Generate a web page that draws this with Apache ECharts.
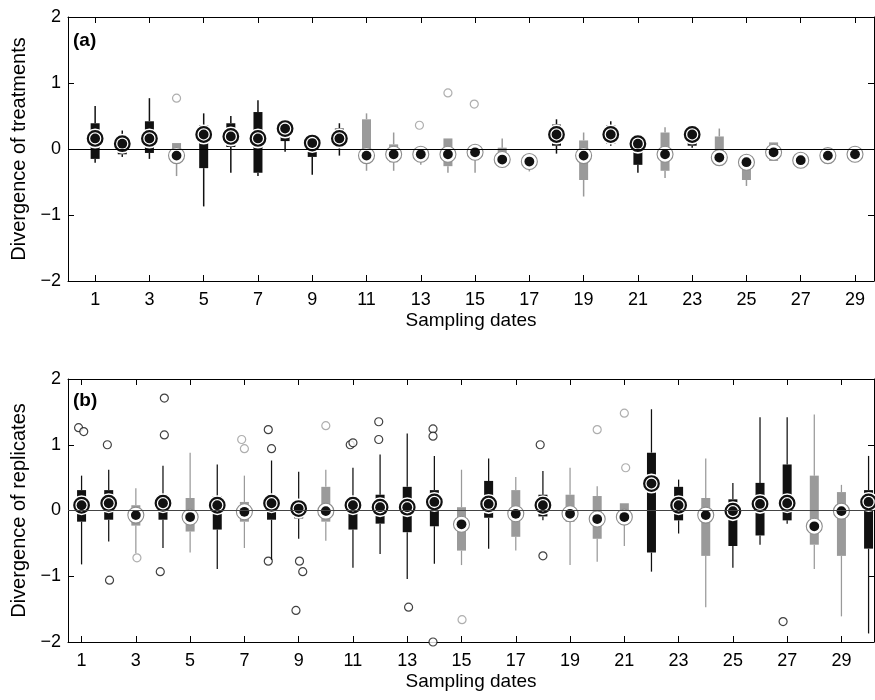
<!DOCTYPE html>
<html><head><meta charset="utf-8">
<script src="https://cdn.jsdelivr.net/npm/echarts@6/dist/echarts.min.js"></script>
<style>html,body{margin:0;padding:0;background:#fff}#c{width:875px;height:700px}</style>
</head><body><div id="c"></div>
<script>
// ---------- Panel (a): divergence of treatments ----------
const datesA = [1,2,3,4,5,6,7,8,9,10,11,12,13,14,15,16,17,18,19,20,21,22,23,24,25,26,27,28,29];
const aLow  = [-0.21,-0.12,-0.15,-0.41,-0.87,-0.36,-0.41,-0.04,-0.39,-0.10,-0.33,-0.33,-0.24,-0.36,-0.36,-0.26,-0.34,-0.07,-0.72,0.05,-0.36,-0.44,0.02,-0.20,-0.56,-0.18,-0.25,-0.15,-0.13];
const aQ1   = [-0.15,-0.08,-0.06,-0.18,-0.29,0.03,-0.36,0.12,-0.12,0.05,-0.20,-0.20,-0.15,-0.26,-0.15,-0.20,-0.25,0.05,-0.47,0.08,-0.24,-0.33,0.05,-0.15,-0.47,-0.18,-0.22,-0.13,-0.11];
const aMed  = [0.16,0.08,0.16,-0.10,0.22,0.19,0.16,0.31,0.09,0.16,-0.10,-0.08,-0.08,-0.08,-0.05,-0.16,-0.19,0.22,-0.10,0.22,0.08,-0.08,0.22,-0.13,-0.20,-0.05,-0.17,-0.10,-0.08];
const aQ3   = [0.39,0.12,0.42,0.09,0.36,0.39,0.56,0.38,0.12,0.31,0.45,0.07,0.02,0.16,0.03,0.02,-0.12,0.37,0.13,0.36,0.10,0.25,0.30,0.19,-0.10,0.10,-0.12,-0.06,-0.05];
const aHigh = [0.65,0.28,0.77,0.09,0.54,0.50,0.74,0.45,0.12,0.39,0.54,0.25,0.02,0.16,0.03,0.16,-0.10,0.45,0.25,0.42,0.15,0.33,0.30,0.31,-0.10,0.10,-0.10,-0.05,-0.03];
const aSig  = [1,1,1,0,1,1,1,1,1,1,0,0,0,0,0,0,0,1,0,1,1,0,1,0,0,0,0,0,0];
const aOutX   = [4.0, 12.95, 14.0, 14.97];
const aOutY   = [0.77, 0.36, 0.85, 0.68];
const aOutSig = [0, 0, 0, 0];

// ---------- Panel (b): divergence of replicates ----------
const datesB = [1,2,3,4,5,6,7,8,9,10,11,12,13,14,15,16,17,18,19,20,21,22,23,24,25,26,27,28,29,30];
const bLow  = [-0.82,-0.47,-0.65,-0.57,-0.64,-0.89,-0.57,-0.75,-0.43,-0.46,-0.87,-0.66,-1.04,-0.81,-0.83,-0.58,-0.61,-0.15,-0.83,-0.78,-0.54,-0.93,-0.35,-1.47,-0.87,-0.52,-0.20,-0.89,-1.61,-1.87];
const bQ1   = [-0.17,-0.14,-0.23,-0.14,-0.32,-0.29,-0.17,-0.14,-0.12,-0.17,-0.29,-0.20,-0.33,-0.24,-0.61,-0.11,-0.40,-0.09,-0.17,-0.43,-0.20,-0.64,-0.15,-0.69,-0.54,-0.38,-0.15,-0.52,-0.69,-0.58];
const bMed  = [0.08,0.11,-0.07,0.11,-0.10,0.08,-0.02,0.11,0.03,-0.01,0.08,0.05,0.05,0.13,-0.21,0.10,-0.05,0.08,-0.05,-0.13,-0.10,0.41,0.08,-0.07,-0.01,0.10,0.11,-0.24,-0.01,0.13];
const bQ3   = [0.31,0.31,0.08,0.24,0.19,0.22,0.13,0.24,0.16,0.36,0.18,0.24,0.36,0.31,0.05,0.45,0.31,0.24,0.24,0.22,0.11,0.88,0.36,0.19,0.17,0.42,0.70,0.53,0.28,0.31];
const bHigh = [0.53,0.62,0.34,0.68,0.88,0.70,0.53,0.76,0.59,0.62,0.65,0.85,1.17,0.83,0.62,0.79,0.51,0.60,0.65,0.37,0.11,1.54,0.47,0.79,0.42,1.42,1.42,1.46,0.39,0.83];
const bSig  = [1,1,0,1,0,1,0,1,1,0,1,1,1,1,0,1,0,1,0,0,0,1,1,0,1,1,1,0,0,1];
const bOutX   = [0.89,1.08,1.95,2.03,3.04,4.05,4.05,3.9,6.9,7.0,7.88,8.0,7.88,9.03,9.15,8.9,10.0,10.9,11.0,11.95,11.95,13.05,13.95,13.95,13.95,15.02,17.9,18.0,20.0,21.0,21.05,26.85];
const bOutY   = [1.26,1.20,1.00,-1.06,-0.72,1.71,1.15,-0.93,1.08,0.94,1.23,0.94,-0.77,-0.77,-0.93,-1.52,1.29,1.00,1.03,1.35,1.08,-1.47,1.24,1.13,-2.0,-1.66,1.00,-0.69,1.23,1.48,0.65,-1.69];
const bOutSig = [1,1,1,1,0,1,1,1,0,0,1,1,1,1,1,1,0,1,1,1,1,1,1,1,1,0,1,1,0,0,0,1];

// tick labels (odd sampling dates)
const xTickValues = [1,3,5,7,9,11,13,15,17,19,21,23,25,27,29];

const BLACK = '#111111', GRAY = '#9a9a9a', RING_GRAY = '#8c8c8c';
const FONT = '"Liberation Sans", Arial, Helvetica, sans-serif';

function boxData(d, lo, q1, md, q3, hi, sg) {
  return d.map((x, i) => [x, lo[i], q1[i], md[i], q3[i], hi[i], sg[i]]);
}
function outData(xs, ys, sg) {
  return xs.map((x, i) => ({
    value: [x, ys[i]],
    itemStyle: { color: '#fff', borderColor: sg[i] ? BLACK : GRAY, borderWidth: 1.2 }
  }));
}

function renderBox(params, api) {
  const x = api.value(0);
  const pLow = api.coord([x, api.value(1)]);
  const pQ1 = api.coord([x, api.value(2)]);
  const pMed = api.coord([x, api.value(3)]);
  const pQ3 = api.coord([x, api.value(4)]);
  const pHigh = api.coord([x, api.value(5)]);
  const sig = api.value(6);
  const col = sig ? BLACK : GRAY;
  const bw = 9;
  const lw = params.seriesIndex === 1 ? 1.5 : 1.25;
  const children = [
    { type: 'line', shape: { x1: pLow[0], y1: pLow[1], x2: pQ1[0], y2: pQ1[1] }, style: { stroke: col, lineWidth: lw } },
    { type: 'line', shape: { x1: pQ3[0], y1: pQ3[1], x2: pHigh[0], y2: pHigh[1] }, style: { stroke: col, lineWidth: lw } },
    { type: 'rect', shape: { x: pQ1[0] - bw / 2, y: pQ3[1], width: bw, height: Math.max(pQ1[1] - pQ3[1], 1) }, style: { fill: col } }
  ];
  if (sig) {
    children.push({ type: 'circle', shape: { cx: pMed[0], cy: pMed[1], r: 10 }, style: { fill: '#fff' } });
    children.push({ type: 'circle', shape: { cx: pMed[0], cy: pMed[1], r: 7.3 }, style: { fill: '#fff', stroke: BLACK, lineWidth: 2.2 } });
  } else {
    children.push({ type: 'circle', shape: { cx: pMed[0], cy: pMed[1], r: 8 }, style: { fill: '#fff', stroke: RING_GRAY, lineWidth: 1.1 } });
  }
  children.push({ type: 'circle', shape: { cx: pMed[0], cy: pMed[1], r: 4.9 }, style: { fill: BLACK } });
  return { type: 'group', children: children };
}

function minusFmt(v) { return v < 0 ? '\u2212' + Math.abs(v) : String(v); }

function xAxes(gi, min, max) {
  return [
    { gridIndex: gi, type: 'value', position: 'bottom', min: min, max: max,
      axisLine: { show: true, onZero: false, lineStyle: { color: '#000', width: 1 } },
      axisTick: { show: true, inside: true, length: 6, customValues: xTickValues, lineStyle: { color: '#000' } },
      axisLabel: { show: true, customValues: xTickValues, margin: 10, fontSize: 18, color: '#000', fontFamily: FONT },
      splitLine: { show: false },
      name: 'Sampling dates', nameLocation: 'middle', nameGap: 30,
      nameTextStyle: { fontSize: 19, color: '#000', fontFamily: FONT } },
    { gridIndex: gi, type: 'value', position: 'top', min: min, max: max,
      axisLine: { show: true, onZero: false, lineStyle: { color: '#000', width: 1 } },
      axisTick: { show: true, inside: true, length: 6, customValues: xTickValues, lineStyle: { color: '#000' } },
      axisLabel: { show: false }, splitLine: { show: false } }
  ];
}
function yAxes(gi, name) {
  return [
    { gridIndex: gi, type: 'value', position: 'left', min: -2, max: 2, interval: 1,
      axisLine: { show: true, onZero: false, lineStyle: { color: '#000', width: 1 } },
      axisTick: { show: true, inside: true, length: 6, lineStyle: { color: '#000' } },
      axisLabel: { show: true, margin: 7, fontSize: 18, color: '#000', fontFamily: FONT, formatter: minusFmt },
      splitLine: { show: false },
      name: name, nameLocation: 'middle', nameGap: 27, nameRotate: 90,
      nameTextStyle: { fontSize: 20, color: '#000', fontFamily: FONT } },
    { gridIndex: gi, type: 'value', position: 'right', min: -2, max: 2, interval: 1,
      axisLine: { show: true, onZero: false, lineStyle: { color: '#000', width: 1 } },
      axisTick: { show: true, inside: true, length: 6, lineStyle: { color: '#000' } },
      axisLabel: { show: false }, splitLine: { show: false } }
  ];
}

const zeroLine = (color) => ({
  silent: true, symbol: ['none', 'none'], label: { show: false },
  lineStyle: { color: color, width: 1, type: 'solid' },
  data: [{ yAxis: 0 }], animation: false
});

const option = {
  animation: false,
  backgroundColor: '#fff',
  grid: [
    { left: 68, top: 17, width: 806, height: 264 },
    { left: 68, top: 379, width: 806, height: 263 }
  ],
  xAxis: [].concat(xAxes(0, 0, 29.7), xAxes(1, 0.5, 30.2)),
  yAxis: [].concat(yAxes(0, 'Divergence of treatments'), yAxes(1, 'Divergence of replicates')),
  graphic: [
    { type: 'text', left: 73, top: 31, style: { text: '(a)', font: 'bold 19px ' + FONT, fill: '#000' } },
    { type: 'text', left: 73, top: 391, style: { text: '(b)', font: 'bold 19px ' + FONT, fill: '#000' } }
  ],
  series: [
    { type: 'scatter', xAxisIndex: 0, yAxisIndex: 0, z: 1, symbol: 'circle', symbolSize: 8,
      data: outData(aOutX, aOutY, aOutSig), markLine: zeroLine('#000') },
    { type: 'custom', xAxisIndex: 0, yAxisIndex: 0, z: 3, renderItem: renderBox,
      encode: { x: 0, y: [1, 2, 3, 4, 5] },
      data: boxData(datesA, aLow, aQ1, aMed, aQ3, aHigh, aSig) },
    { type: 'scatter', xAxisIndex: 2, yAxisIndex: 2, z: 1, symbol: 'circle', symbolSize: 8,
      data: outData(bOutX, bOutY, bOutSig), markLine: zeroLine('#444') },
    { type: 'custom', xAxisIndex: 2, yAxisIndex: 2, z: 3, renderItem: renderBox,
      encode: { x: 0, y: [1, 2, 3, 4, 5] },
      data: boxData(datesB, bLow, bQ1, bMed, bQ3, bHigh, bSig) }
  ]
};

const chart = echarts.init(document.getElementById('c'), null, { renderer: 'canvas' });
chart.setOption(option);
</script>
</body></html>
